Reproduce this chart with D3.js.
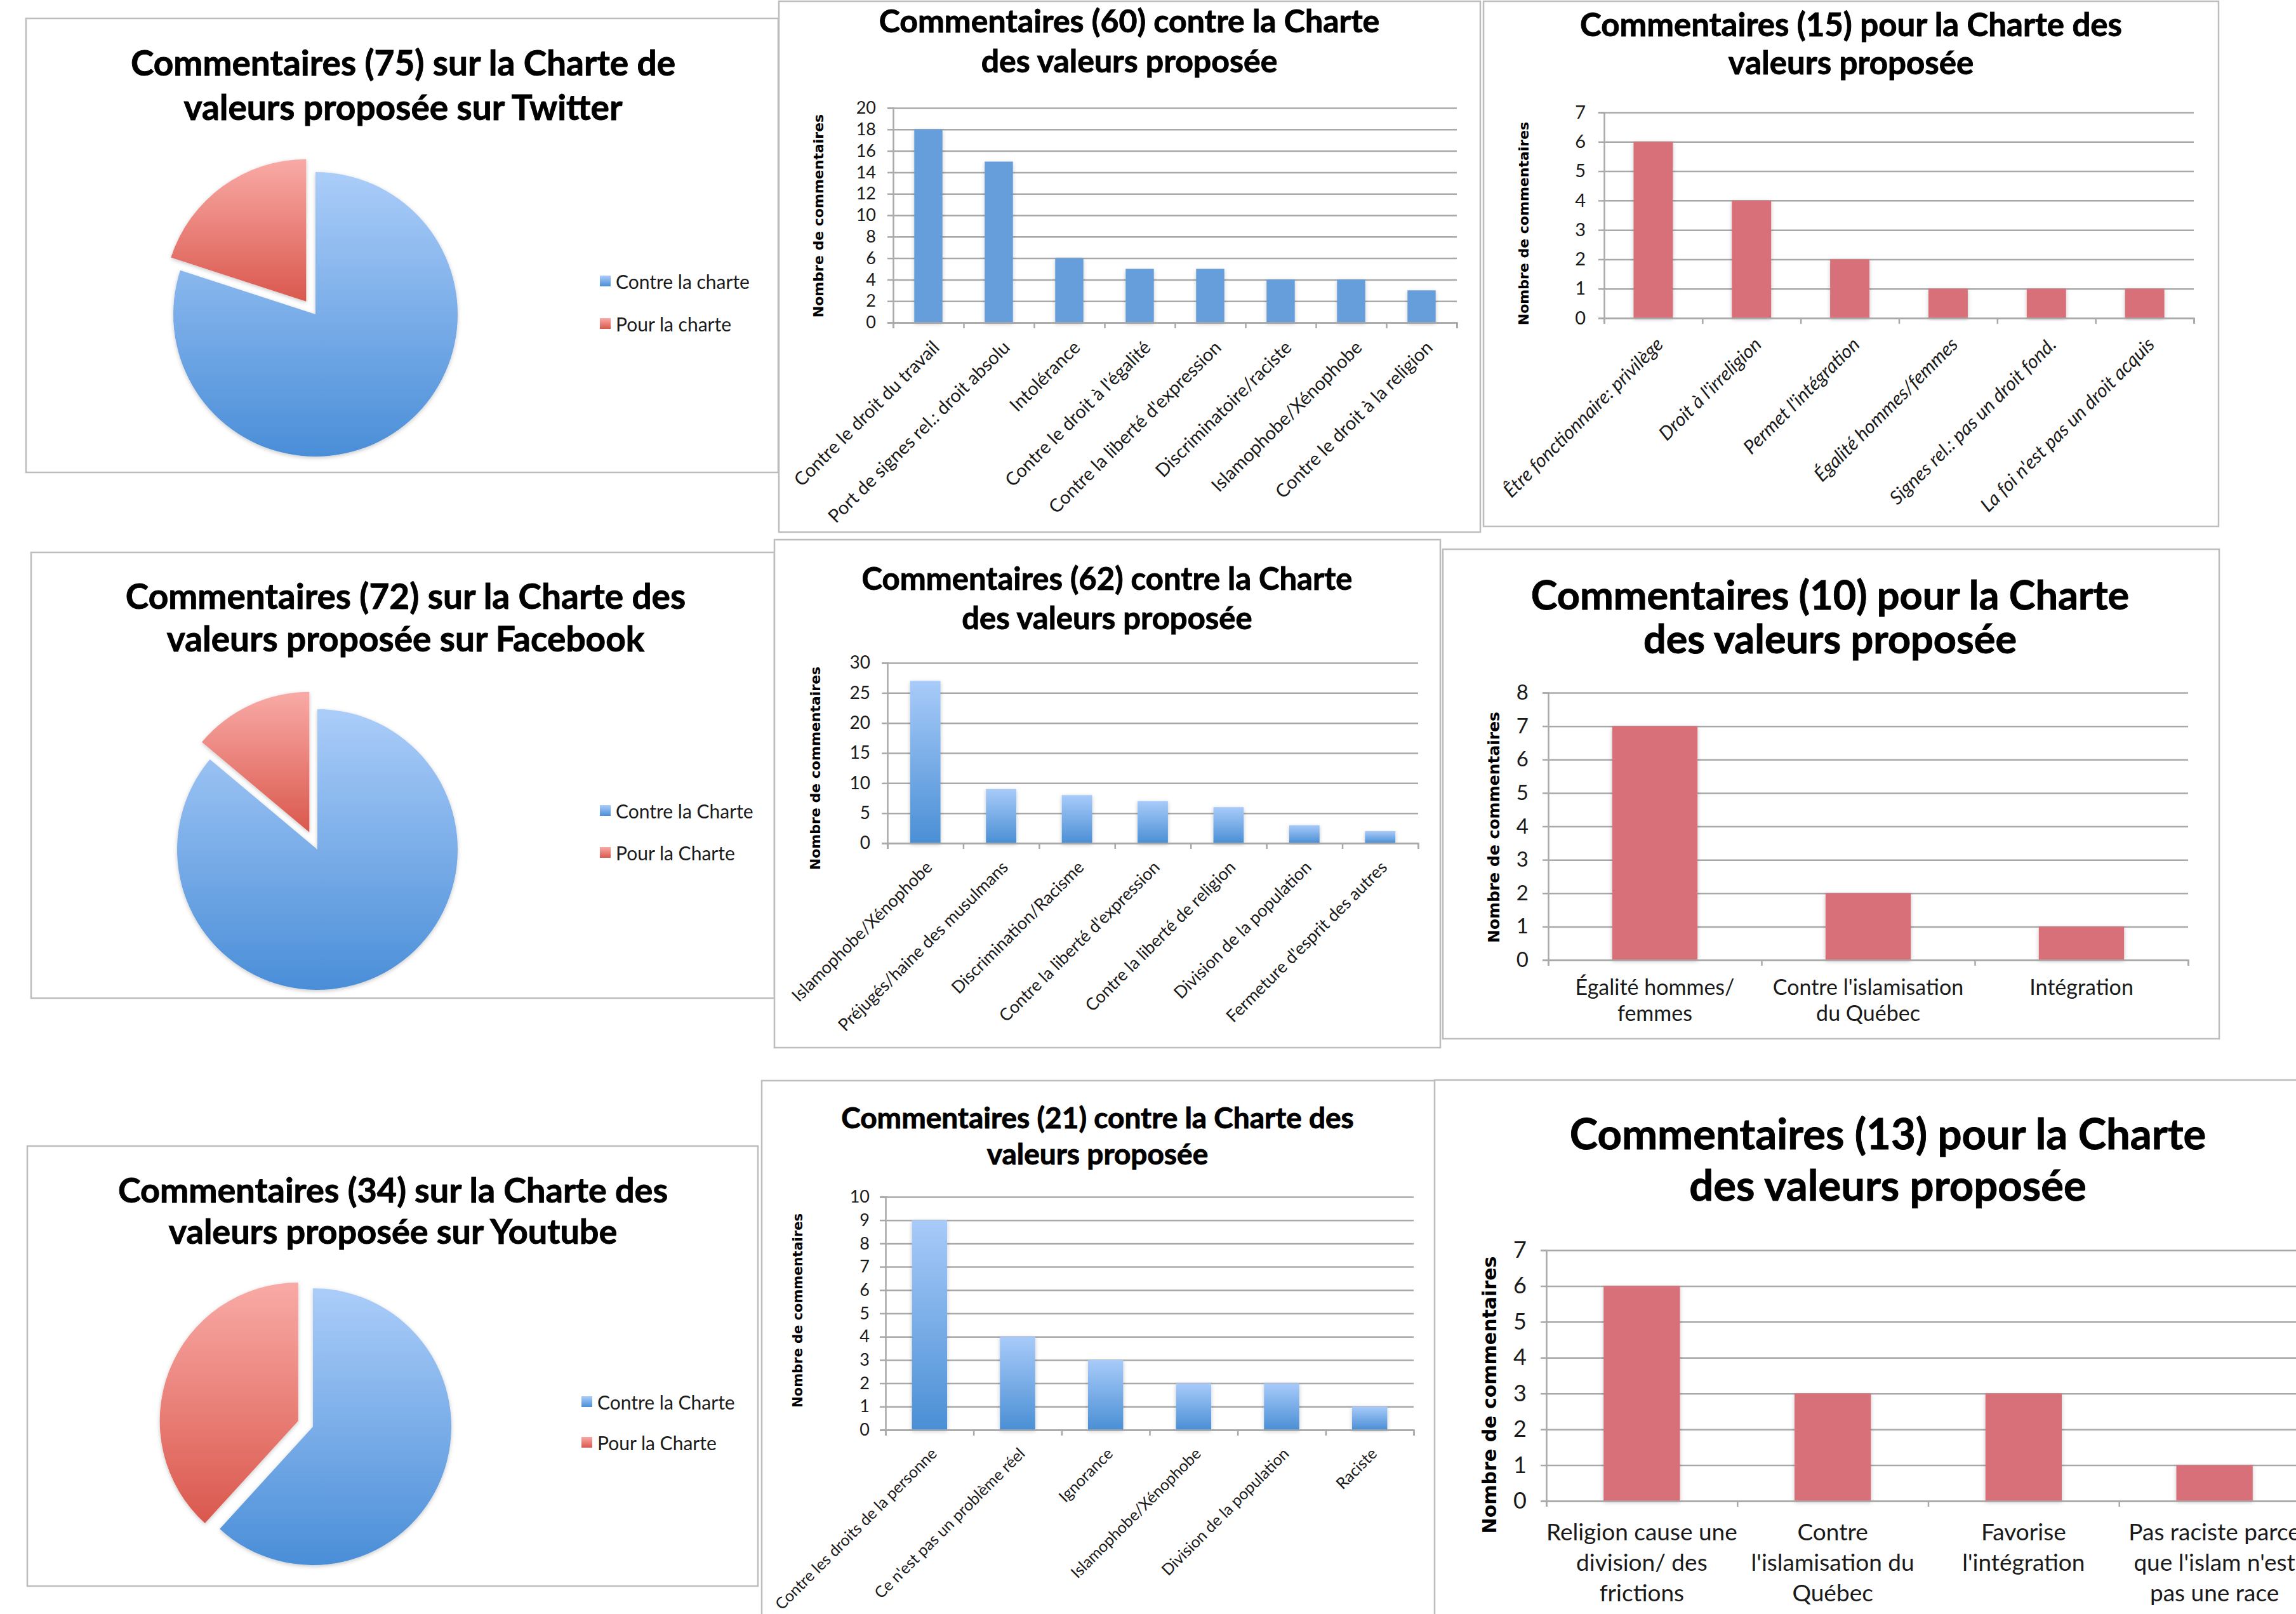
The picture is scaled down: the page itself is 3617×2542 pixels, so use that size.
<!DOCTYPE html>
<html>
<head>
<meta charset="utf-8">
<script src="https://cdn.jsdelivr.net/npm/d3@7"></script>
<style>
  body { margin: 0; background: #fff; }
  svg { display: block; }
</style>
</head>
<body>
<script>
// Donnees : camemberts
var twitterPieLabels = ['Contre la charte', 'Pour la charte']
var twitterPieValues = [60, 15]
var facebookPieLabels = ['Contre la Charte', 'Pour la Charte']
var facebookPieValues = [62, 10]
var youtubePieLabels = ['Contre la Charte', 'Pour la Charte']
var youtubePieValues = [21, 13]

// Donnees : histogrammes
var twContreCats = ['Contre le droit du travail', 'Port de signes rel.: droit absolu', 'Intolérance',
    "Contre le droit à l'égalité", "Contre la liberté d'expression", 'Discriminatoire/raciste',
    'Islamophobe/Xénophobe', 'Contre le droit à la religion']
var twContreValues = [18, 15, 6, 5, 5, 4, 4, 3]
var twContreTicks = [0, 2, 4, 6, 8, 10, 12, 14, 16, 18, 20]

var twPourCats = ['Être fonctionnaire: privilège', "Droit à l'irreligion", "Permet l'intégration",
    'Égalité hommes/femmes', 'Signes rel.: pas un droit fond.', "La foi n'est pas un droit acquis"]
var twPourValues = [6, 4, 2, 1, 1, 1]
var twPourTicks = [0, 1, 2, 3, 4, 5, 6, 7]

var fbContreCats = ['Islamophobe/Xénophobe', 'Préjugés/haine des musulmans', 'Discrimination/Racisme',
    "Contre la liberté d'expression", 'Contre la liberté de religion', 'Division de la population',
    "Fermeture d'esprit des autres"]
var fbContreValues = [27, 9, 8, 7, 6, 3, 2]
var fbContreTicks = [0, 5, 10, 15, 20, 25, 30]

var fbPourCats = [['Égalité hommes/', 'femmes'], ["Contre l'islamisation", 'du Québec'], ['Intégration']]
var fbPourValues = [7, 2, 1]
var fbPourTicks = [0, 1, 2, 3, 4, 5, 6, 7, 8]

var ytContreCats = ['Contre les droits de la personne', "Ce n'est pas un problème réel", 'Ignorance',
    'Islamophobe/Xénophobe', 'Division de la population', 'Raciste']
var ytContreValues = [9, 4, 3, 2, 2, 1]
var ytContreTicks = [0, 1, 2, 3, 4, 5, 6, 7, 8, 9, 10]

var ytPourCats = [['Religion cause une', 'division/ des', 'frictions'], ['Contre', "l'islamisation du", 'Québec'],
    ['Favorise', "l'intégration"], ['Pas raciste parce', "que l'islam n'est", 'pas une race']]
var ytPourValues = [6, 3, 3, 1]
var ytPourTicks = [0, 1, 2, 3, 4, 5, 6, 7]

var yTitle = 'Nombre de commentaires'

// Couleurs
var colours = {
    grid: '#a9a9a9',
    border: '#bdbdbd',
    text: '#1a1a1a',
    flatBlue: '#659edb',
    flatRed: '#d8707a'
}

var W = 3617
var H = 2542
var font = 'Lato, "Open Sans", sans-serif'
var boldFont = '"DejaVu Sans", Verdana, sans-serif'

var svg = d3.select('body').append('svg')
    .attr('width', W)
    .attr('height', H)
    .attr('viewBox', [0, 0, W, H])

var defs = svg.append('defs')

function gradient(id, top, bottom) {
    var lg = defs.append('linearGradient')
        .attr('id', id)
        .attr('x1', 0).attr('y1', 0).attr('x2', 0).attr('y2', 1)
    lg.append('stop').attr('offset', '0%').attr('stop-color', top)
    lg.append('stop').attr('offset', '100%').attr('stop-color', bottom)
}
gradient('gBlue', '#abcdf9', '#4a8ed8')
gradient('gRed', '#f9aaa6', '#da584d')
gradient('gBar', '#a8cbf9', '#4a8fd5')

var shadow = defs.append('filter').attr('id', 'shadow')
    .attr('x', '-10%').attr('y', '-10%').attr('width', '120%').attr('height', '120%')
shadow.append('feDropShadow')
    .attr('dx', 0).attr('dy', 2).attr('stdDeviation', 3)
    .attr('flood-color', '#000').attr('flood-opacity', 0.22)

// Cadre blanc de chaque graphique
function drawBox(b) {
    svg.append('rect')
        .attr('x', b[0]).attr('y', b[1])
        .attr('width', b[2] - b[0]).attr('height', b[3] - b[1])
        .attr('fill', '#fff')
        .attr('stroke', colours.border)
        .attr('stroke-width', 2.5)
}

function drawTitle(lines, cx, ys, size) {
    svg.append('g')
        .attr('font-family', font)
        .attr('font-weight', 'bold')
        .attr('font-size', size)
        .attr('text-anchor', 'middle')
        .attr('fill', '#000')
        .attr('stroke', '#000')
        .attr('stroke-width', 0.9)
        .selectAll('text').data(lines).join('text')
        .attr('x', cx)
        .attr('y', (d, i) => ys[i])
        .text(d => d)
}

// Camembert explose
function drawPie(cfg) {
    drawBox(cfg.box)
    drawTitle(cfg.title, cfg.titleX, cfg.titleY, cfg.titleSize)

    var arcs = d3.pie().sort(null)(cfg.values)
    var arc = d3.arc().innerRadius(0).outerRadius(cfg.r)
    var fills = ['url(#gBlue)', 'url(#gRed)']

    svg.append('g')
        .attr('transform', `translate(${cfg.cx},${cfg.cy})`)
        .selectAll('path').data(arcs).join('path')
        .attr('d', arc)
        .attr('fill', (d, i) => fills[i])
        .attr('filter', 'url(#shadow)')
        .attr('transform', (d, i) => {
            if (i === 0) return null
            var a = (d.startAngle + d.endAngle) / 2
            return `translate(${Math.sin(a) * cfg.explode},${-Math.cos(a) * cfg.explode})`
        })

    var legend = svg.append('g')
        .attr('font-family', font)
        .attr('font-size', cfg.legendSize)
        .attr('fill', colours.text)
        .selectAll('g').data(cfg.labels).join('g')
        .attr('transform', (d, i) => `translate(${cfg.legendX},${cfg.legendY[i]})`)
    legend.append('rect')
        .attr('x', 0).attr('y', -21)
        .attr('width', 17).attr('height', 17)
        .attr('fill', (d, i) => fills[i])
    legend.append('text')
        .attr('x', 25)
        .text(d => d)
}

// Histogramme
function drawBars(cfg) {
    drawBox(cfg.box)
    drawTitle(cfg.title, cfg.titleX, cfg.titleY, cfg.titleSize)

    var n = cfg.cats.length
    var x = d3.scaleBand()
        .domain(d3.range(n))
        .range([cfg.left, cfg.right])
        .paddingInner(0.6)
        .paddingOuter(0.3)
    var xEdges = d3.scaleLinear().domain([0, n]).range([cfg.left, cfg.right])
    var y = d3.scaleLinear()
        .domain([0, cfg.ticks[cfg.ticks.length - 1]])
        .range([cfg.bottom, cfg.top])

    var g = svg.append('g')

    // grille horizontale
    g.append('g')
        .attr('transform', `translate(${cfg.left},0)`)
        .call(d3.axisLeft(y).tickValues(cfg.ticks).tickSize(-(cfg.right - cfg.left)).tickFormat(''))
        .call(s => s.select('.domain').remove())
        .call(s => s.selectAll('line').attr('stroke', colours.grid).attr('stroke-width', 2.5))

    // barres
    g.append('g')
        .selectAll('rect').data(cfg.values).join('rect')
        .attr('x', (d, i) => x(i))
        .attr('y', d => y(d))
        .attr('width', x.bandwidth())
        .attr('height', d => y(0) - y(d))
        .attr('fill', cfg.fill)
        .attr('filter', 'url(#shadow)')

    // axe vertical
    g.append('g')
        .attr('transform', `translate(${cfg.left},0)`)
        .call(d3.axisLeft(y).tickValues(cfg.ticks).tickSize(9).tickPadding(cfg.tickPad).tickFormat(d3.format('d')))
        .call(s => s.select('.domain').attr('stroke', colours.grid).attr('stroke-width', 2.5))
        .call(s => s.selectAll('line').attr('stroke', colours.grid).attr('stroke-width', 2.5))
        .call(s => s.selectAll('text')
            .attr('font-family', font)
            .attr('font-size', cfg.tickSize)
            .attr('fill', colours.text))

    // axe horizontal
    g.append('g')
        .attr('transform', `translate(0,${cfg.bottom})`)
        .call(d3.axisBottom(xEdges).tickValues(d3.range(n + 1)).tickSize(9).tickFormat(''))
        .call(s => s.select('.domain').attr('stroke', colours.grid).attr('stroke-width', 2.5))
        .call(s => s.selectAll('line').attr('stroke', colours.grid).attr('stroke-width', 2.5))

    // etiquettes des categories
    var labels = g.append('g')
        .attr('font-family', font)
        .attr('font-size', cfg.labelSize)
        .attr('font-style', cfg.italic ? 'italic' : 'normal')
        .attr('fill', colours.text)
    if (cfg.rotated) {
        labels.selectAll('text').data(cfg.cats).join('text')
            .attr('text-anchor', 'end')
            .attr('dy', '0.35em')
            .attr('transform', (d, i) =>
                `translate(${x(i) + x.bandwidth() / 2 + cfg.labelDx},${cfg.bottom + cfg.labelDy}) rotate(-45)`)
            .text(d => d)
    } else {
        labels.selectAll('text').data(cfg.cats).join('text')
            .attr('text-anchor', 'middle')
            .attr('x', (d, i) => x(i) + x.bandwidth() / 2)
            .attr('y', cfg.bottom + cfg.labelDy)
            .selectAll('tspan').data(d => d).join('tspan')
            .attr('x', function () { return this.parentNode.getAttribute('x') })
            .attr('dy', (d, i) => i === 0 ? 0 : cfg.lineHeight)
            .text(d => d)
    }

    // titre de l'axe vertical
    svg.append('text')
        .attr('font-family', boldFont)
        .attr('font-weight', 'bold')
        .attr('font-size', cfg.yTitleSize)
        .attr('text-anchor', 'middle')
        .attr('dy', '0.35em')
        .attr('fill', '#000')
        .attr('transform', `translate(${cfg.yTitleX},${cfg.yTitleY}) rotate(-90)`)
        .text(yTitle)
}

// Rangee 1 : Twitter
drawPie({
    box: [41, 29, 1226, 744],
    title: ['Commentaires (75) sur la Charte de', 'valeurs proposée sur Twitter'],
    titleX: 635, titleY: [119, 189], titleSize: 55,
    values: twitterPieValues, labels: twitterPieLabels,
    cx: 497, cy: 495, r: 224, explode: 25,
    legendX: 945, legendY: [455, 522], legendSize: 30
})
drawBars({
    box: [1227, 2, 2332, 838],
    title: ['Commentaires (60) contre la Charte', 'des valeurs proposée'],
    titleX: 1779, titleY: [51, 114], titleSize: 50,
    cats: twContreCats, values: twContreValues, ticks: twContreTicks,
    left: 1407, right: 2295, top: 170, bottom: 508,
    fill: colours.flatBlue, tickSize: 27, tickPad: 18,
    rotated: true, labelSize: 29, labelDx: 12, labelDy: 34,
    yTitleX: 1289, yTitleY: 340, yTitleSize: 22
})
drawBars({
    box: [2337, 2, 3495, 829],
    title: ['Commentaires (15) pour la Charte des', 'valeurs proposée'],
    titleX: 2916, titleY: [57, 117], titleSize: 51,
    cats: twPourCats, values: twPourValues, ticks: twPourTicks,
    left: 2527, right: 3456, top: 177, bottom: 501,
    fill: colours.flatRed, tickSize: 29, tickPad: 20,
    rotated: true, italic: true, labelSize: 30, labelDx: 10, labelDy: 36,
    yTitleX: 2400, yTitleY: 352, yTitleSize: 22
})

// Rangee 2 : Facebook
drawPie({
    box: [49, 870, 1220, 1572],
    title: ['Commentaires (72) sur la Charte des', 'valeurs proposée sur Facebook'],
    titleX: 639, titleY: [959, 1026], titleSize: 55,
    values: facebookPieValues, labels: facebookPieLabels,
    cx: 500, cy: 1338, r: 221, explode: 30,
    legendX: 945, legendY: [1289, 1355], legendSize: 30
})
drawBars({
    box: [1220, 850, 2269, 1650],
    title: ['Commentaires (62) contre la Charte', 'des valeurs proposée'],
    titleX: 1744, titleY: [929, 991], titleSize: 49,
    cats: fbContreCats, values: fbContreValues, ticks: fbContreTicks,
    fill: 'url(#gBar)',
    left: 1398, right: 2234, top: 1044, bottom: 1328,
    tickSize: 28, tickPad: 18,
    rotated: true, labelSize: 27, labelDx: 6, labelDy: 33,
    yTitleX: 1284, yTitleY: 1210, yTitleSize: 22
})
drawBars({
    box: [2273, 865, 3496, 1636],
    title: ['Commentaires (10) pour la Charte', 'des valeurs proposée'],
    titleX: 2883, titleY: [960, 1029], titleSize: 63,
    cats: fbPourCats, values: fbPourValues, ticks: fbPourTicks,
    fill: colours.flatRed,
    left: 2439, right: 3447, top: 1091, bottom: 1512,
    tickSize: 33, tickPad: 22,
    rotated: false, labelSize: 34, labelDy: 55, lineHeight: 41,
    yTitleX: 2353, yTitleY: 1303, yTitleSize: 25
})

// Rangee 3 : Youtube
drawPie({
    box: [43, 1805, 1194, 2498],
    title: ['Commentaires (34) sur la Charte des', 'valeurs proposée sur Youtube'],
    titleX: 619, titleY: [1894, 1959], titleSize: 54,
    values: youtubePieValues, labels: youtubePieLabels,
    cx: 493, cy: 2247, r: 218, explode: 25,
    legendX: 916, legendY: [2220, 2284], legendSize: 30
})
drawBars({
    box: [1200, 1702, 2261, 2560],
    title: ['Commentaires (21) contre la Charte des', 'valeurs proposée'],
    titleX: 1729, titleY: [1777, 1834], titleSize: 46,
    cats: ytContreCats, values: ytContreValues, ticks: ytContreTicks,
    fill: 'url(#gBar)',
    left: 1395, right: 2227, top: 1885, bottom: 2252,
    tickSize: 27, tickPad: 16,
    rotated: true, labelSize: 25, labelDx: 7, labelDy: 33,
    yTitleX: 1257, yTitleY: 2064, yTitleSize: 21
})
drawBars({
    box: [2260, 1701, 3640, 2560],
    title: ['Commentaires (13) pour la Charte', 'des valeurs proposée'],
    titleX: 2974, titleY: [1810, 1891], titleSize: 67,
    cats: ytPourCats, values: ytPourValues, ticks: ytPourTicks,
    fill: colours.flatRed,
    left: 2436, right: 3639, top: 1969, bottom: 2364,
    tickSize: 36, tickPad: 22,
    rotated: false, labelSize: 37, labelDy: 62, lineHeight: 48,
    yTitleX: 2346, yTitleY: 2197, yTitleSize: 30
})
</script>
</body>
</html>
